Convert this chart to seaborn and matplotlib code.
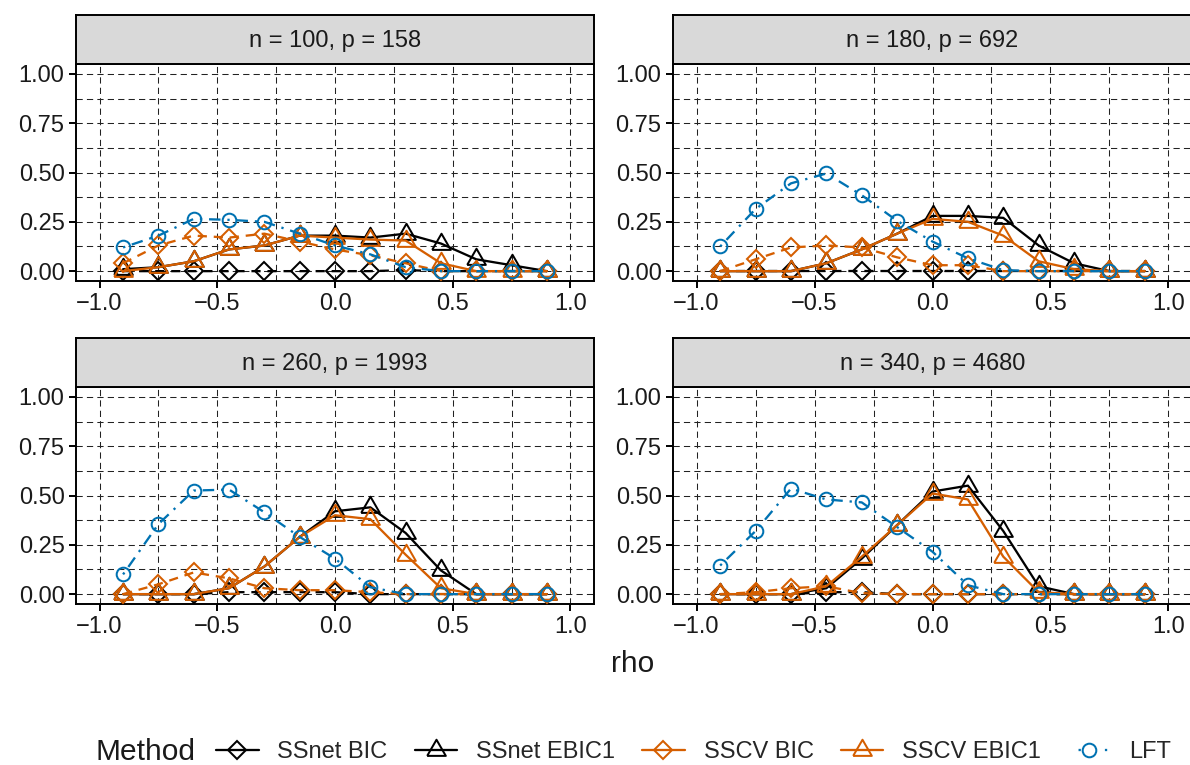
import numpy as np
import pandas as pd
import matplotlib
matplotlib.use("Agg")
import matplotlib.pyplot as plt
from matplotlib.lines import Line2D
from matplotlib.ticker import FixedLocator, FuncFormatter
import seaborn as sns

sns.set_style("white")
plt.rcParams['font.family'] = ['Liberation Sans', 'DejaVu Sans']

# ---------------- data ----------------
rho = [-0.9, -0.75, -0.6, -0.45, -0.3, -0.15, 0.0, 0.15, 0.3, 0.45, 0.6, 0.75, 0.9]
panel_titles = ["n = 100, p = 158", "n = 180, p = 692", "n = 260, p = 1993", "n = 340, p = 4680"]
methods = ["SSnet BIC", "SSnet EBIC1", "SSCV BIC", "SSCV EBIC1", "LFT"]

ssnet_bic = [
    [0, 0, 0, 0, 0, 0, 0, 0, 0.005, 0, 0, 0, 0],
    [0, 0, 0, 0, 0, 0, 0, 0, 0, 0, 0, 0, 0],
    [0, 0, 0, 0.01, 0.01, 0.01, 0.01, 0, 0, 0, 0, 0, 0],
    [0, 0, 0, 0.01, 0.01, 0, 0, 0, 0, 0, 0, 0, 0],
]
ssnet_ebic1 = [
    [0.01, 0.02, 0.05, 0.11, 0.13, 0.18, 0.18, 0.17, 0.19, 0.14, 0.06, 0.03, 0.0],
    [0, 0, 0, 0.04, 0.11, 0.19, 0.28, 0.28, 0.27, 0.13, 0.04, 0, 0],
    [0, 0, 0, 0.03, 0.14, 0.29, 0.42, 0.44, 0.31, 0.12, 0, 0, 0],
    [0, 0, 0, 0.03, 0.18, 0.35, 0.52, 0.55, 0.32, 0.04, 0, 0, 0],
]
sscv_bic = [
    [0.04, 0.13, 0.18, 0.17, 0.19, 0.15, 0.11, 0.08, 0.04, 0.0, 0, 0, 0],
    [0, 0.06, 0.12, 0.13, 0.12, 0.07, 0.03, 0.03, 0, 0, 0, 0, 0],
    [0, 0.05, 0.11, 0.08, 0.03, 0.02, 0.02, 0.01, 0, 0, 0, 0, 0],
    [0, 0.01, 0.03, 0.04, 0.005, 0, 0, 0, 0, 0, 0, 0, 0],
]
sscv_ebic1 = [
    [0.0, 0.02, 0.05, 0.11, 0.13, 0.18, 0.17, 0.16, 0.155, 0.04, 0.0, 0, 0],
    [0, 0, 0, 0.04, 0.11, 0.19, 0.265, 0.25, 0.18, 0.05, 0.01, 0, 0],
    [0, 0, 0, 0.03, 0.14, 0.29, 0.40, 0.38, 0.20, 0.03, 0, 0, 0],
    [0, 0, 0, 0.04, 0.19, 0.35, 0.51, 0.48, 0.19, 0.01, 0, 0, 0],
]
lft = [
    [0.12, 0.18, 0.265, 0.26, 0.25, 0.19, 0.13, 0.085, 0.02, 0.0, 0, 0, 0],
    [0.125, 0.315, 0.445, 0.495, 0.385, 0.255, 0.15, 0.065, 0.005, 0, 0, 0, 0],
    [0.10, 0.355, 0.525, 0.53, 0.415, 0.29, 0.18, 0.035, 0, 0, 0, 0, 0],
    [0.145, 0.32, 0.535, 0.48, 0.465, 0.34, 0.215, 0.045, 0, 0, 0, 0, 0],
]
series = [ssnet_bic, ssnet_ebic1, sscv_bic, sscv_ebic1, lft]

x_breaks = [-1.0, -0.5, 0.0, 0.5, 1.0]
x_minor = [-0.75, -0.25, 0.25, 0.75]
y_breaks = [0.0, 0.25, 0.5, 0.75, 1.0]
y_minor = [0.125, 0.375, 0.625, 0.875]

# ---------------- styles ----------------
BLACK = "#000000"
ORANGE = "#D55E00"
BLUE = "#0072B2"
# equilateral triangle centred on its centroid (like R's pch 2)
TRI = [(-0.5, -0.2887), (0.5, -0.2887), (0.0, 0.5774), (-0.5, -0.2887)]
styles = {
    "SSnet BIC":   dict(color=BLACK,  marker="D", ms=9.6, ls=(0, (4, 3))),
    "SSnet EBIC1": dict(color=BLACK,  marker=TRI, ms=15.5, ls="-"),
    "SSCV BIC":    dict(color=ORANGE, marker="D", ms=9.6, ls=(0, (4, 3))),
    "SSCV EBIC1":  dict(color=ORANGE, marker=TRI, ms=15.5, ls="-"),
    "LFT":         dict(color=BLUE,   marker="o", ms=9.8, ls=(0, (1, 3, 5, 3))),
}
LW = 1.65
MEW = 1.45
TXT = 17
TITLE = 21.5

W, H = 1190, 765
fig = plt.figure(figsize=(W / 100, H / 100), dpi=100)


def px_axes(x0, y0, x1, y1):
    return fig.add_axes([x0 / W, 1 - y1 / H, (x1 - x0) / W, (y1 - y0) / H])


cols = [(76, 594), (673, 1192)]
rows = [(15, 64, 281), (338, 387, 604)]

for i, title in enumerate(panel_titles):
    r, c = divmod(i, 2)
    x0, x1 = cols[c]
    st, pt, pb = rows[r]
    ax = px_axes(x0, pt, x1, pb)
    sax = px_axes(x0, st, x1, pt)

    # strip
    sax.set_facecolor("#D9D9D9")
    sax.set_xticks([]); sax.set_yticks([])
    for s in sax.spines.values():
        s.set_linewidth(1.4); s.set_color("black")
    sax.text(0.5, 0.47, title, ha="center", va="center", fontsize=TXT,
             color="#1A1A1A", transform=sax.transAxes)

    # data
    for k, (m, vals) in enumerate(zip(methods, series)):
        st_ = styles[m]
        sns.lineplot(x=rho, y=vals[i], ax=ax, color=st_["color"], linestyle=st_["ls"],
                     linewidth=LW, marker=st_["marker"], markersize=st_["ms"],
                     markerfacecolor="none", markeredgecolor=st_["color"],
                     markeredgewidth=MEW, legend=False, zorder=3 + k, clip_on=False)

    ax.set_xlim(-1.1, 1.1)
    ax.set_ylim(-0.05, 1.05)
    ax.xaxis.set_major_locator(FixedLocator(x_breaks))
    ax.xaxis.set_minor_locator(FixedLocator(x_minor))
    ax.yaxis.set_major_locator(FixedLocator(y_breaks))
    ax.yaxis.set_minor_locator(FixedLocator(y_minor))
    ax.xaxis.set_major_formatter(FuncFormatter(lambda v, p: f"{v:.1f}".replace("-", "\u2212")))
    ax.yaxis.set_major_formatter(FuncFormatter(lambda v, p: f"{v:.2f}"))
    ax.grid(True, which="both", color="#222222", linewidth=0.75, linestyle=(0, (6, 4)))
    ax.set_axisbelow(True)
    ax.tick_params(axis="both", which="major", length=5, width=1.4, color="black",
                   labelsize=TXT, labelcolor="#1A1A1A", direction="out",
                   bottom=True, left=True)
    ax.tick_params(axis="y", which="major", pad=3.2)
    ax.tick_params(axis="x", which="major", pad=3.5)
    ax.tick_params(axis="both", which="minor", length=0)
    for s in ax.spines.values():
        s.set_linewidth(1.4); s.set_color("black")
    ax.set_xlabel(""); ax.set_ylabel("")

# axis title
fig.text(633 / W, 1 - 664 / H, "rho", ha="center", va="center", fontsize=TITLE, color="#1A1A1A")

# legend
handles = []
for m in methods:
    st_ = styles[m]
    ls = (6.9, (1, 10.5)) if m == "LFT" else "-"
    handles.append(Line2D([0], [0], color=st_["color"], linestyle=ls,
                          linewidth=LW, marker=st_["marker"], markersize=st_["ms"],
                          markerfacecolor="none", markeredgecolor=st_["color"], markeredgewidth=MEW))
fig.text(96 / W, 1 - 752 / H, "Method", ha="left", va="center", fontsize=TITLE, color="#1A1A1A")
fig.legend(handles, methods, loc="center left", bbox_to_anchor=(216 / W, 1 - 752 / H),
           ncol=5, frameon=False, fontsize=TXT, handlelength=1.8, columnspacing=1.15,
           handletextpad=0.8, borderaxespad=0, borderpad=0)

fig.savefig("out.png", dpi=100)
